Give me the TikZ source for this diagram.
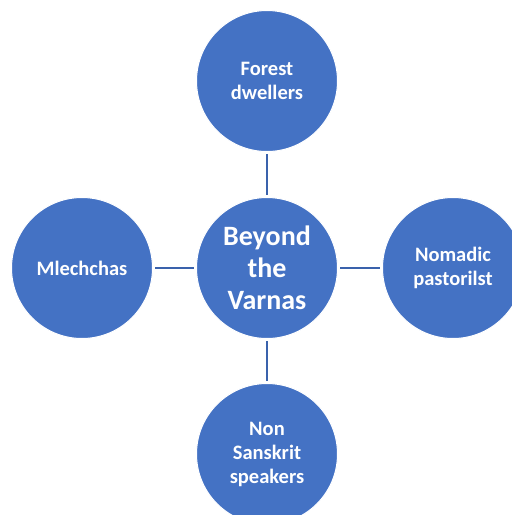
\documentclass[tikz,border=0pt]{standalone}
\usepackage{fontspec}
\setmainfont{Carlito}
\definecolor{fillblue}{HTML}{4472C4}
\definecolor{lineblue}{HTML}{3A62AC}
\begin{document}
\begin{tikzpicture}[x=1pt,y=-1pt,
  bubble/.style={circle, fill=fillblue, draw=white, line width=1pt, minimum size=141pt, inner sep=0pt, text=white, align=center, font=\bfseries\fontsize{20.5}{24}\selectfont},
  hub/.style={bubble, font=\bfseries\fontsize{28}{32}\selectfont},
  link/.style={draw=lineblue, line width=2pt, shorten <=2pt, shorten >=2pt}]
\useasboundingbox (0,0) rectangle (512,515);
\node[hub] (c) at (267,268) {Beyond\\the\\Varnas};
\node[bubble] (t) at (267,81) {Forest\\dwellers};
\node[bubble] (l) at (82,268) {Mlechchas};
\node[bubble] (r) at (453,268) {Nomadic\\pastorilst};
\node[bubble] (b) at (267,454) {Non\\Sanskrit\\speakers};
\draw[link] (t) -- (c);
\draw[link] (l) -- (c);
\draw[link] (c) -- (r);
\draw[link] (c) -- (b);
\end{tikzpicture}
\end{document}
